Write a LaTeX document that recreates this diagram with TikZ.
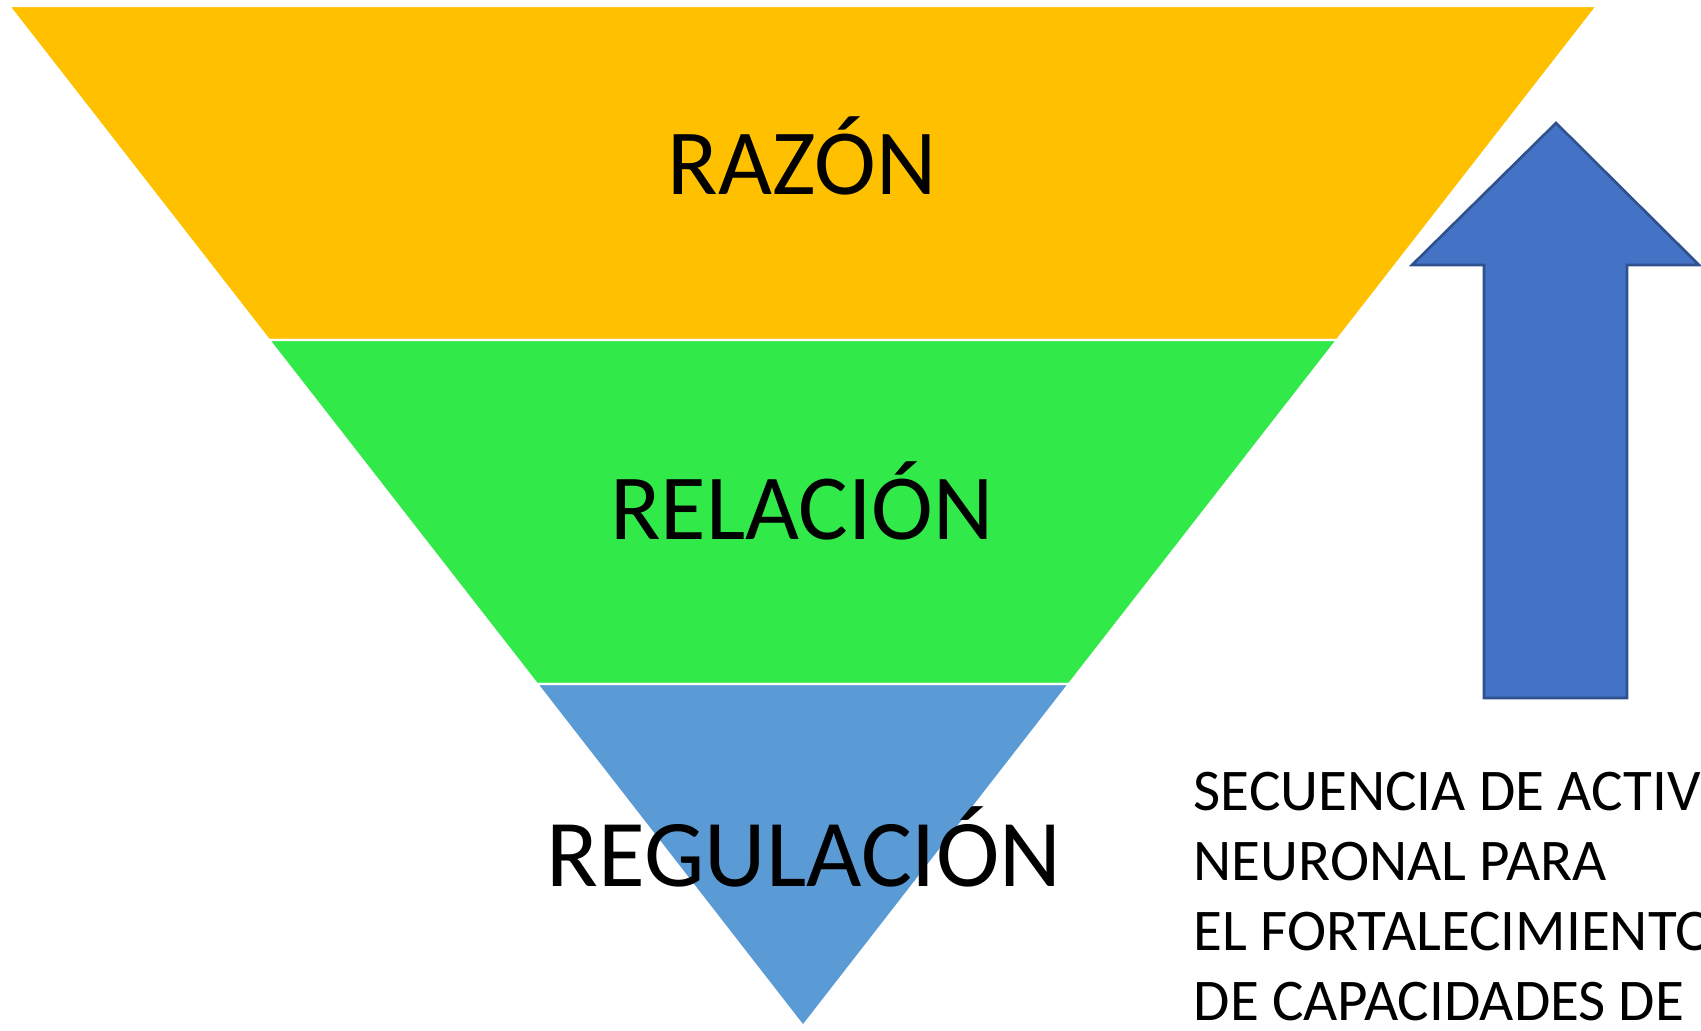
\documentclass[tikz,border=0pt]{standalone}
\usepackage{fontspec}
\setmainfont{Carlito}
\definecolor{razonyellow}{HTML}{FFC000}
\definecolor{relaciongreen}{HTML}{32E94A}
\definecolor{regulacionblue}{HTML}{5B9BD5}
\definecolor{arrowblue}{HTML}{4472C4}
\definecolor{arrowedge}{HTML}{2F528F}
\tikzset{
    band/.style={draw=white, line width=0.6pt},
    level/.style={anchor=base, font=\fontsize{26.5}{32}\selectfont},
}
\begin{document}
\begin{tikzpicture}[x=0.01cm, y=-0.01cm]
    \useasboundingbox (0,0) rectangle (1701,1031);
    % Bands
    \filldraw[band, fill=razonyellow] (9,6) -- (1597,6) -- (1337,340) -- (269,340) -- cycle;
    \filldraw[band, fill=relaciongreen] (269,340) -- (1337,340) -- (1069,684) -- (537,684) -- cycle;
    \filldraw[band, fill=regulacionblue] (537,684) -- (1069,684) -- (803,1026) -- cycle;

    % Levels
    \node[level] (razon) at (802,195) {RAZÓN};
    \node[level] (relacion) at (802,539) {RELACIÓN};
    \node[level, font=\fontsize{27.2}{32}\selectfont] (regulacion) at (804,886) {REGULACIÓN};

    % Arrow
    \filldraw[fill=arrowblue, draw=arrowedge, line width=0.75pt]
        (1484,698) -- (1484,265) -- (1412,265) -- (1556,123) -- (1699,265)
        -- (1627,265) -- (1627,698) -- cycle;

    % Caption (base = last line)
    \node[anchor=base west, align=left, inner sep=0pt,
          font=\fontsize{16.8}{19.9}\selectfont] (secuencia) at (1193,1020)
        {SECUENCIA DE ACTIV\\NEURONAL PARA\\EL FORTALECIMIENTO\\DE CAPACIDADES DE};
\end{tikzpicture}
\end{document}
